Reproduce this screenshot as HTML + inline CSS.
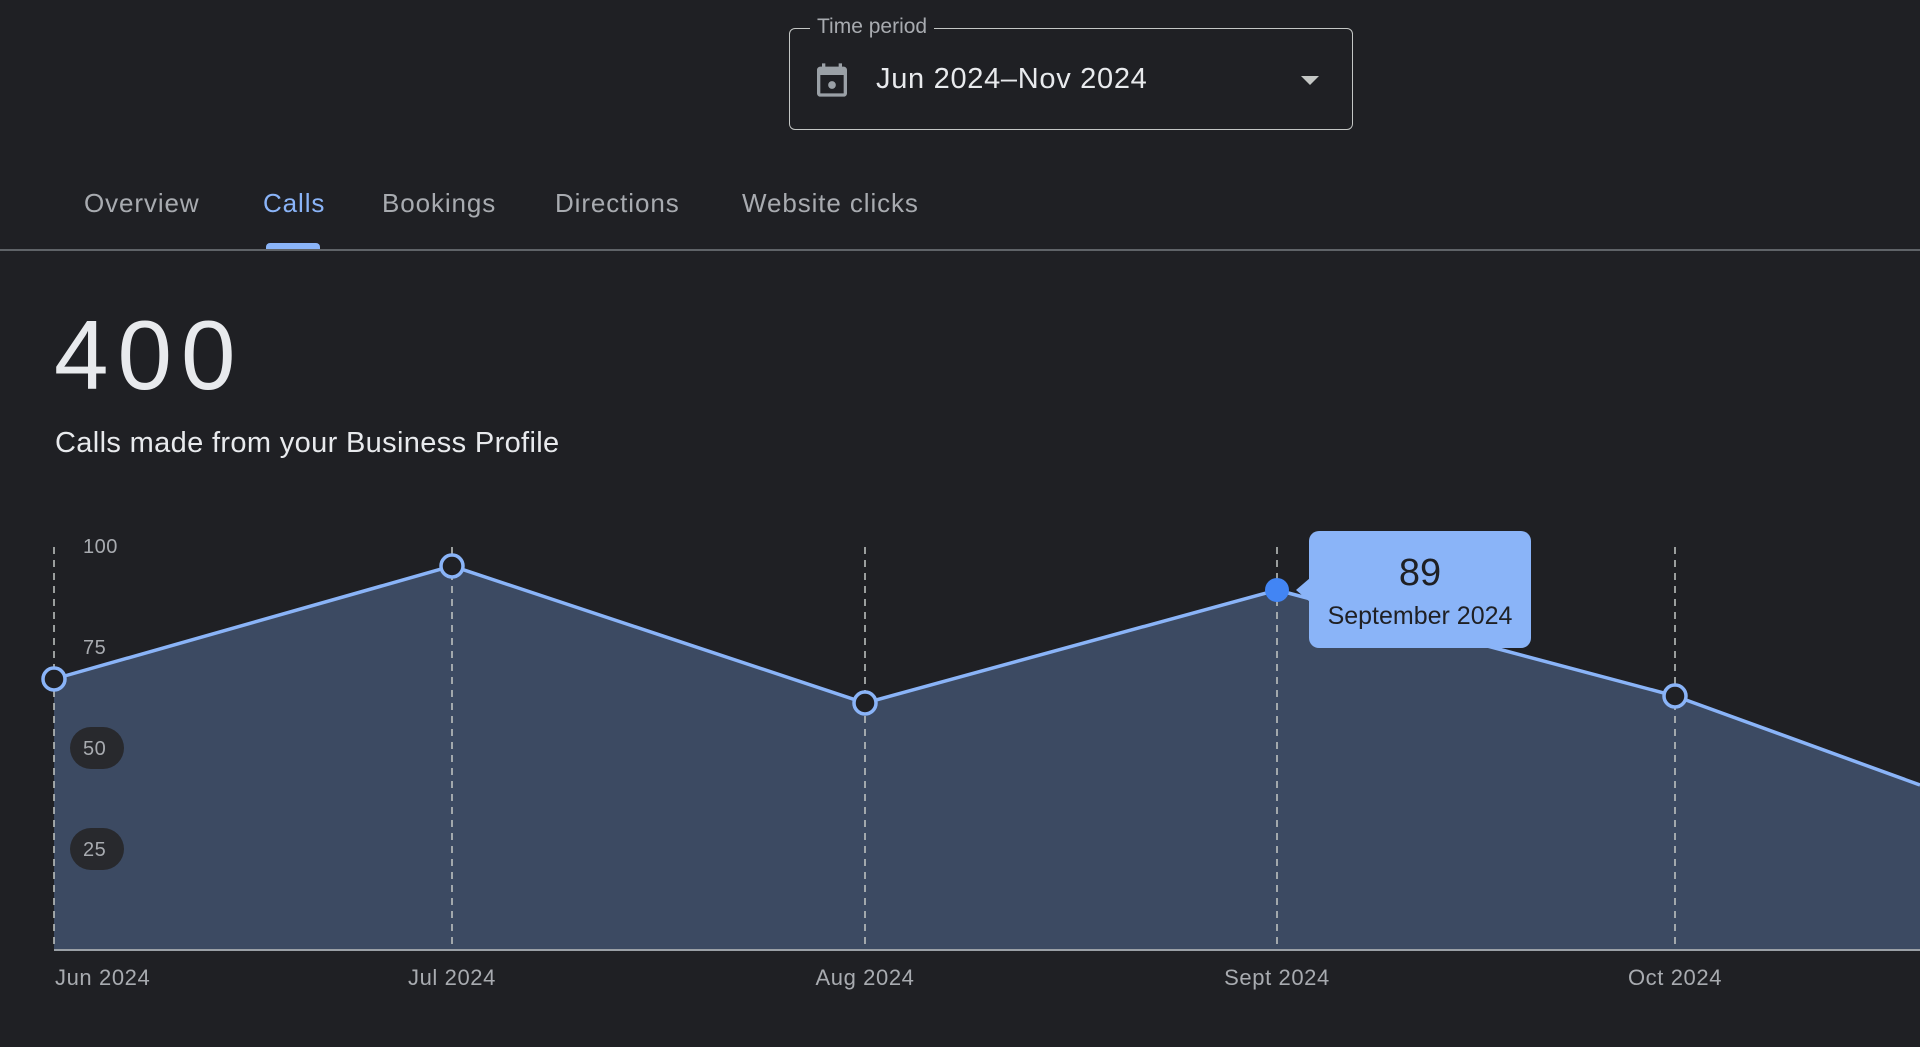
<!DOCTYPE html>
<html><head><meta charset="utf-8"><style>
html,body{margin:0;padding:0;background:#1f2024;width:1920px;height:1047px;overflow:hidden;font-family:"Liberation Sans",sans-serif;}
.abs{position:absolute;white-space:nowrap;}
.tab{color:#a8abb0;font-size:26px;letter-spacing:0.9px;top:188px;}
</style></head><body>
<div class="abs" style="left:789px;top:28px;width:562px;height:100px;border:1.5px solid #c4c7c5;border-radius:6px;"></div>
<div class="abs" style="left:810px;top:14px;padding:0 7px;background:#1f2024;color:#a8abb0;font-size:21px;line-height:26px;">Time period</div>
<svg class="abs" style="left:812px;top:59px" width="40" height="42" viewBox="0 0 24 24"><path fill="#9aa0a6" d="M19 4h-1V2h-2v2H8V2H6v2H5c-1.1 0-2 .9-2 2v14c0 1.1.9 2 2 2h14c1.1 0 2-.9 2-2V6c0-1.1-.9-2-2-2zm0 16H5V9h14v11z"/><circle cx="12" cy="15" r="2.3" fill="#9aa0a6"/></svg>
<div class="abs" style="left:876px;top:61px;color:#e8eaed;font-size:29px;line-height:36px;letter-spacing:0.7px;">Jun 2024–Nov 2024</div>
<div class="abs" style="left:1301px;top:76px;width:0;height:0;border-left:9px solid transparent;border-right:9px solid transparent;border-top:9px solid #c4c7c5;"></div>
<div class="abs tab" style="left:84px;">Overview</div>
<div class="abs tab" style="left:263px;color:#8ab4f8;">Calls</div>
<div class="abs tab" style="left:382px;">Bookings</div>
<div class="abs tab" style="left:555px;">Directions</div>
<div class="abs tab" style="left:742px;">Website clicks</div>
<div class="abs" style="left:266px;top:243px;width:54px;height:7px;background:#8ab4f8;border-radius:4px 4px 0 0;"></div>
<div class="abs" style="left:0;top:249px;width:1920px;height:1.5px;background:#5f6368;"></div>
<div class="abs" style="left:54px;top:300px;color:#e8eaed;font-size:98px;line-height:110px;letter-spacing:9px;">400</div>
<div class="abs" style="left:55px;top:425px;color:#e8eaed;font-size:29px;line-height:36px;letter-spacing:0.35px;">Calls made from your Business Profile</div>
<svg class="abs" style="left:0;top:0" width="1920" height="1047">
<polygon points="54,679 452,566 865,703 1277,590 1675,696 1920,785 1920,950 54,950" fill="#3c4a62"/>
<g stroke="#c4c7c5" stroke-width="1.5" stroke-dasharray="7,6">
<line x1="54" y1="547" x2="54" y2="950"/><line x1="452" y1="547" x2="452" y2="950"/><line x1="865" y1="547" x2="865" y2="950"/><line x1="1277" y1="547" x2="1277" y2="950"/><line x1="1675" y1="547" x2="1675" y2="950"/>
</g>
<line x1="54" y1="950" x2="1920" y2="950" stroke="#9aa0a6" stroke-width="2"/>
<polyline points="54,679 452,566 865,703 1277,590 1675,696 1920,785" fill="none" stroke="#8ab4f8" stroke-width="3.5"/>
<rect x="70" y="727" width="54" height="42" rx="21" fill="#28292d"/>
<rect x="70" y="828" width="54" height="42" rx="21" fill="#28292d"/>
<g font-family="Liberation Sans" font-size="20" fill="#a8abb0" letter-spacing="0.5">
<text x="83" y="553">100</text><text x="83" y="654">75</text><text x="83" y="755">50</text><text x="83" y="856">25</text>
</g>
<g fill="#1f2024" stroke="#8ab4f8" stroke-width="3.5">
<circle cx="54" cy="679" r="11"/><circle cx="452" cy="566" r="11"/><circle cx="865" cy="703" r="11"/><circle cx="1675" cy="696" r="11"/>
</g>
<circle cx="1277" cy="590" r="12" fill="#4285f4"/>
<g font-family="Liberation Sans" font-size="22" fill="#a8abb0" letter-spacing="0.6">
<text x="55" y="985">Jun 2024</text>
<text x="452" y="985" text-anchor="middle">Jul 2024</text>
<text x="865" y="985" text-anchor="middle">Aug 2024</text>
<text x="1277" y="985" text-anchor="middle">Sept 2024</text>
<text x="1675" y="985" text-anchor="middle">Oct 2024</text>
</g>
<polygon points="1296,590 1310,578 1310,602" fill="#8ab4f8"/>
<rect x="1309" y="531" width="222" height="117" rx="10" fill="#8ab4f8"/>
<text x="1420" y="585" text-anchor="middle" font-family="Liberation Sans" font-size="38" fill="#1f2024">89</text>
<text x="1420" y="624" text-anchor="middle" font-family="Liberation Sans" font-size="25" fill="#1f2024">September 2024</text>
</svg>
</body></html>
